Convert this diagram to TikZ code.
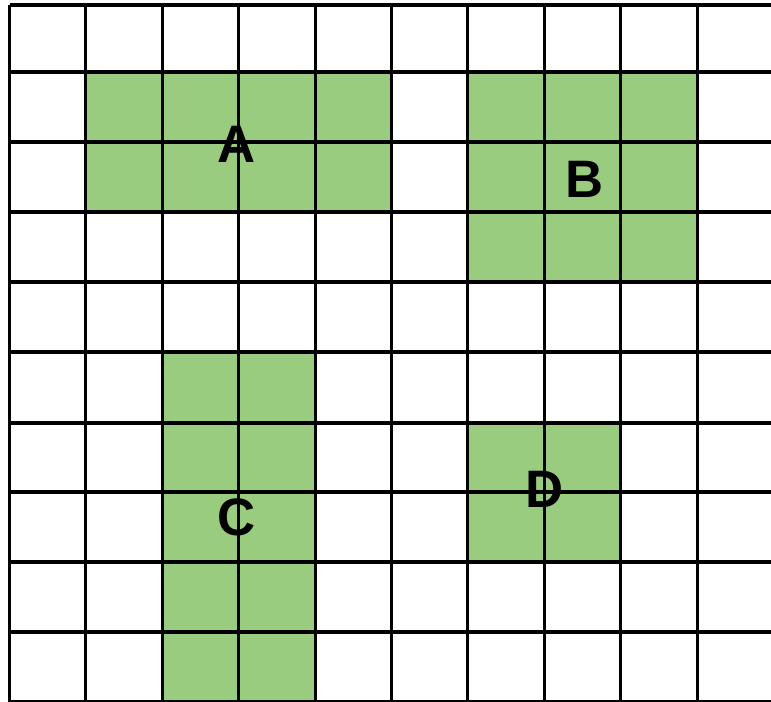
\documentclass[tikz,border=0pt]{standalone}
\usepackage{fontspec}
\setmainfont{Liberation Sans}
\usetikzlibrary{positioning}
\definecolor{cellgreen}{RGB}{153,204,126}

\begin{document}
\begin{tikzpicture}[x=0.02cm, y=-0.02cm,
    font=\fontsize{30}{36}\selectfont\bfseries,
    gridline/.style={line width=1.75pt, black},
    blocklabel/.style={inner sep=0pt}]
  \useasboundingbox (0,0) rectangle (771,701);
  \clip (0,0) rectangle (771,701);
  % Green blocks
  \fill[cellgreen] (85.9,72) rectangle (391.5,212);
  \fill[cellgreen] (467.9,72) rectangle (697.1,282);
  \fill[cellgreen] (162.3,352) rectangle (315.1,710);
  \fill[cellgreen] (467.9,424) rectangle (620.7,562);
  % Labels
  \node[blocklabel] (A) at (236.5,144.5) {A};
  \node[blocklabel] (B) at (584.5,179) {B};
  \node[blocklabel] (C) at (236.5,517) {C};
  \node[blocklabel] (D) at (544.5,489.5) {D};
  % Grid
  \foreach \x in {9.5,85.9,162.3,238.7,315.1,391.5,467.9,544.3,620.7,697.1}
    \draw[gridline] (\x,5) -- (\x,710);
  \foreach \y in {5,72,142,212,282,352,423,492,562,632,702}
    \draw[gridline] (9.5,\y) -- (780,\y);
\end{tikzpicture}
\end{document}
